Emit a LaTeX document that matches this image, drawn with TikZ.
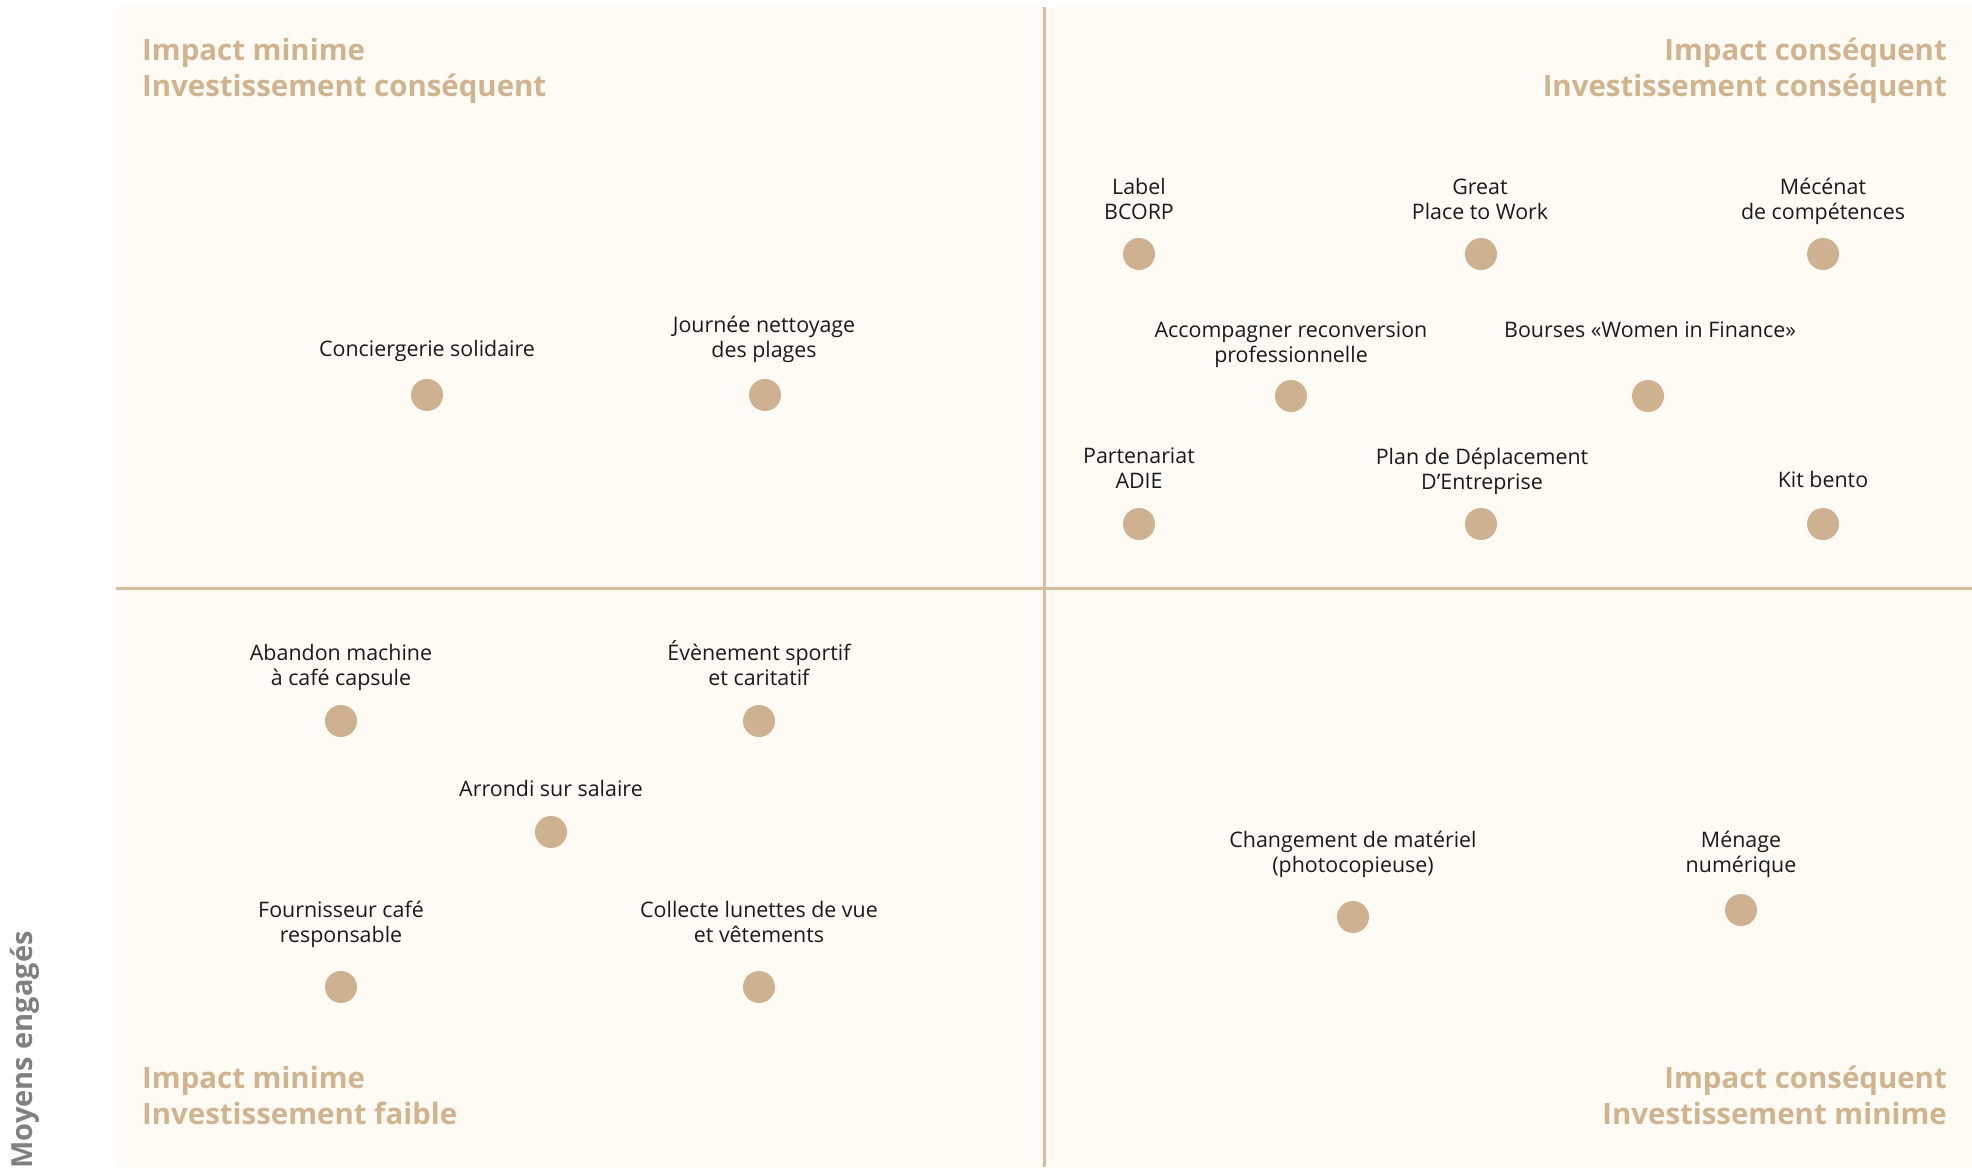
\documentclass[tikz,border=0pt]{standalone}
\usepackage{fontspec}
\setmainfont{Open Sans}
\definecolor{bgcol}{HTML}{FEFBF5}
\definecolor{tan}{HTML}{D0B48F}
\definecolor{dotcol}{HTML}{CDB191}
\definecolor{linecol}{HTML}{D6BE9C}
\definecolor{txtcol}{HTML}{1A1A1A}
\definecolor{axiscol}{HTML}{808080}
\tikzset{
  dotnode/.style={circle, fill=dotcol, draw=none, minimum size=32pt, inner sep=0pt},
  lbl/.style={anchor=south, inner sep=0pt, text depth=0pt, align=center, text=txtcol,
    font=\fontsize{21.4}{25}\selectfont},
  quadtitle/.style={inner sep=0pt, text depth=0pt, text=tan,
    font=\fontsize{29.4}{36}\selectfont\bfseries},
  divider/.style={draw=linecol, line width=3pt}
}
\begin{document}
\begin{tikzpicture}[x=1pt, y=-1pt]
\useasboundingbox (0,0) rectangle (1972,1167);
\fill[bgcol] (116,7) rectangle (1972,1167);
% dividers
\coordinate (vtop) at (1044,7);
\coordinate (vbot) at (1044,1167);
\coordinate (hleft) at (116,588);
\coordinate (hright) at (1972,588);
\draw[divider] (vtop) -- (vbot);
\draw[divider] (hleft) -- (hright);

% quadrant titles
\node[quadtitle, anchor=south west, align=left] (tTL) at (142,96.5) {Impact minime\\Investissement conséquent};
\node[quadtitle, anchor=south east, align=right] (tTR) at (1947,96.5) {Impact conséquent\\Investissement conséquent};
\node[quadtitle, anchor=south west, align=left] (tBL) at (142,1124.5) {Impact minime\\Investissement faible};
\node[quadtitle, anchor=south east, align=right] (tBR) at (1947,1124.5) {Impact conséquent\\Investissement minime};

% axis label
\node[rotate=90, anchor=base east, inner sep=0pt, text=axiscol,
  font=\fontsize{29}{34}\selectfont\bfseries] (axis) at (32,931) {Moyens engagés};

% top-right quadrant
\node[dotnode] (d1) at (1139,254) {};
\node[lbl] (l1) at (1139,220) {Label\\BCORP};
\node[dotnode] (d2) at (1481,254) {};
\node[lbl] (l2) at (1480,220) {Great\\Place to Work};
\node[dotnode] (d3) at (1823,254) {};
\node[lbl] (l3) at (1823,220) {Mécénat\\de compétences};
\node[dotnode] (d4) at (1291,396) {};
\node[lbl] (l4) at (1291,363) {Accompagner reconversion\\professionnelle};
\node[dotnode] (d5) at (1648,396) {};
\node[lbl] (l5) at (1650,338) {Bourses «Women in Finance»};
\node[dotnode] (d6) at (1139,524) {};
\node[lbl] (l6) at (1139,489) {Partenariat\\ADIE};
\node[dotnode] (d7) at (1481,524) {};
\node[lbl] (l7) at (1482,490) {Plan de Déplacement\\D’Entreprise};
\node[dotnode] (d8) at (1823,524) {};
\node[lbl] (l8) at (1823,488) {Kit bento};

% top-left quadrant
\node[dotnode] (d9) at (427,395) {};
\node[lbl] (l9) at (427,357) {Conciergerie solidaire};
\node[dotnode] (d10) at (765,395) {};
\node[lbl] (l10) at (764,358) {Journée nettoyage\\des plages};

% bottom-left quadrant
\node[dotnode] (d11) at (341,721) {};
\node[lbl] (l11) at (341,686) {Abandon machine\\à café capsule};
\node[dotnode] (d12) at (759,721) {};
\node[lbl] (l12) at (759,686) {Évènement sportif\\et caritatif};
\node[dotnode] (d13) at (551,832) {};
\node[lbl] (l13) at (551,797) {Arrondi sur salaire};
\node[dotnode] (d14) at (341,987) {};
\node[lbl] (l14) at (341,943) {Fournisseur café\\responsable};
\node[dotnode] (d15) at (759,987) {};
\node[lbl] (l15) at (759,943) {Collecte lunettes de vue\\et vêtements};

% bottom-right quadrant
\node[dotnode] (d16) at (1353,917) {};
\node[lbl] (l16) at (1353,873) {Changement de matériel\\(photocopieuse)};
\node[dotnode] (d17) at (1741,910) {};
\node[lbl] (l17) at (1741,873) {Ménage\\numérique};
\end{tikzpicture}
\end{document}
